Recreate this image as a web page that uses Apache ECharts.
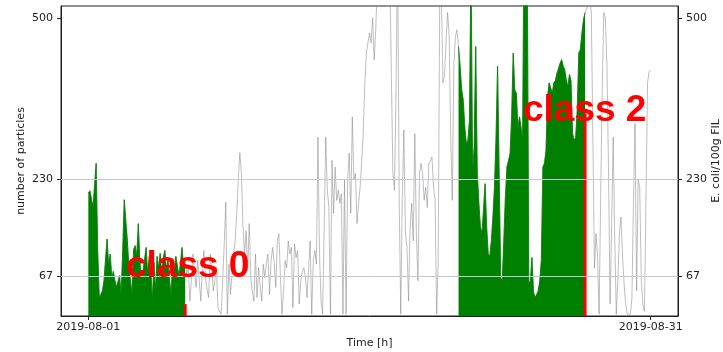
<!DOCTYPE html>
<html>
<head>
<meta charset="utf-8">
<script src="https://cdn.jsdelivr.net/npm/echarts@6/dist/echarts.min.js"></script>
<style>
  html, body { margin: 0; padding: 0; background: #fff; }
  #chart { width: 723px; height: 352px; }
</style>
</head>
<body>
<div id="chart"></div>
<script>
// Particle counts, one reading every 2 hours from 2019-08-01 00:00
const stepHours = 2;
const particles = [
  206,210,207,182,220,256,110,30,32,42,
  59,95,129,85,104,64,75,60,48,58,
  68,35,110,195,160,126,81,59,36,112,
  118,100,155,90,65,75,95,115,70,100,
  80,25,90,42,100,80,105,70,98,110,
  75,95,60,35,96,70,100,85,65,90,
  115,80,95,70,81,25,60,104,75,48,
  93,60,25,80,110,64,45,31,104,80,
  42,60,81,14,8,3,59,120,191,3,
  87,36,70,104,126,170,230,274,239,150,
  104,143,76,155,64,40,25,104,31,81,
  50,25,87,64,90,104,36,93,115,90,
  48,126,138,64,3,42,93,81,126,104,
  115,14,121,98,110,20,59,76,81,64,
  31,80,126,3,93,110,87,300,104,25,
  3,150,300,211,182,3,261,172,250,194,
  211,189,205,3,228,3,228,273,172,334,
  228,239,155,189,216,260,306,391,441,458,
  475,458,500,430,480,560,620,660,700,680,
  650,640,620,580,400,240,211,380,620,200,
  3,200,312,138,115,25,149,189,126,306,
  138,59,239,256,239,194,216,182,256,260,
  267,216,194,3,93,560,540,391,402,460,
  509,470,300,194,419,469,480,452,419,380,
  362,317,289,295,329,600,239,284,452,240,
  190,150,138,180,222,150,104,100,126,166,
  216,300,419,239,64,59,59,200,250,261,
  273,334,441,379,374,317,334,317,295,650,
  650,600,54,59,98,40,31,36,42,59,
  93,250,256,278,368,391,391,374,391,395,
  407,415,424,430,419,413,395,385,405,395,
  306,295,300,346,441,447,475,497,509,514,
  525,530,510,300,80,138,100,3,200,380,
  509,500,420,250,20,150,300,130,3,60,
  140,166,100,54,20,3,3,3,30,189,
  323,42,228,216,60,20,8,194,391,410,
  412
];

// Classified windows (hours since start) and the E. coli sample at each window end
const classNames = ['class 0', 'class 2'];
const windowStartHours = [0, 474];
const windowEndHours = [124, 636];
const ecoliValues = [20, 340];

// Axis ticks
const xTickHours = [0, 720];
const xTickLabels = ['2019-08-01', '2019-08-31'];
const yTickValues = [67, 230, 500];
const gridValues = [67, 230];

const allPoints = particles.map((v, i) => [i * stepHours, v]);
const windowPoints = (s, e) => allPoints.filter(p => p[0] >= s && p[0] <= e);

const axisColor = '#222';
const font = 'DejaVu Sans';

const chart = echarts.init(document.getElementById('chart'), null, { renderer: 'canvas' });

const classSeries = classNames.map((name, k) => ({
  name: name,
  type: 'line',
  data: windowPoints(windowStartHours[k], windowEndHours[k]),
  showSymbol: false,
  symbol: 'none',
  lineStyle: { color: '#008000', width: 0.8 },
  areaStyle: { color: '#008000', opacity: 1, origin: 'start' },
  z: 3,
  silent: true
}));

const yAxisCommon = {
  type: 'value',
  min: 0,
  max: 520,
  splitLine: { show: false },
  axisLine: { show: true, onZero: false, lineStyle: { color: axisColor, width: 1 } },
  axisTick: { show: true, length: 4, customValues: yTickValues, lineStyle: { color: axisColor } },
  axisLabel: { customValues: yTickValues, color: '#222', fontFamily: font, fontSize: 11, margin: 8 },
  nameLocation: 'middle',
  nameMoveOverlap: false,
  nameTextStyle: { color: '#222', fontFamily: font, fontSize: 11 }
};

chart.setOption({
  animation: false,
  backgroundColor: '#fff',
  grid: {
    left: 61, right: 45, top: 6, bottom: 36,
    containLabel: false,
    outerBoundsMode: 'none',
    show: true, borderColor: axisColor, borderWidth: 1, backgroundColor: 'transparent'
  },
  xAxis: {
    type: 'value',
    min: -35,
    max: 755,
    name: 'Time [h]',
    nameLocation: 'middle',
    nameGap: 22,
    nameMoveOverlap: false,
    nameTextStyle: { color: '#222', fontFamily: font, fontSize: 11 },
    splitLine: { show: false },
    axisLine: { show: true, onZero: false, lineStyle: { color: axisColor, width: 1 } },
    axisTick: { show: true, length: 4, customValues: xTickHours, lineStyle: { color: axisColor } },
    axisLabel: {
      customValues: xTickHours,
      formatter: v => xTickLabels[xTickHours.indexOf(v)] || '',
      color: '#222', fontFamily: font, fontSize: 11, margin: 6
    }
  },
  yAxis: [
    Object.assign({}, yAxisCommon, { position: 'left', name: 'number of particles', nameGap: 34 }),
    Object.assign({}, yAxisCommon, { position: 'right', name: 'E. coli/100g FIL', nameGap: 33, nameRotate: 90 })
  ],
  series: [
    {
      name: 'grid',
      type: 'line',
      data: [],
      z: 1,
      silent: true,
      markLine: {
        silent: true,
        symbol: 'none',
        label: { show: false },
        lineStyle: { color: '#c6c6e4', width: 1, type: 'solid' },
        data: gridValues.map(v => ({ yAxis: v }))
      }
    },
    {
      name: 'particles',
      type: 'line',
      data: allPoints,
      showSymbol: false,
      symbol: 'none',
      lineStyle: { color: '#888', width: 0.55 },
      z: 2,
      silent: true
    },
    ...classSeries,
    {
      name: 'E. coli',
      type: 'bar',
      yAxisIndex: 1,
      barWidth: 3,
      data: windowEndHours.map((h, k) => [h, ecoliValues[k]]),
      itemStyle: { color: '#ff0000' },
      z: 4,
      silent: true
    }
  ],
  graphic: [
    {
      type: 'text', left: 126, top: 248, z: 10, silent: true,
      style: { text: classNames[0], fill: '#ff0000', font: 'bold 37px "Liberation Sans", Arial, sans-serif' }
    },
    {
      type: 'text', left: 523, top: 92, z: 10, silent: true,
      style: { text: classNames[1], fill: '#ff0000', font: 'bold 37px "Liberation Sans", Arial, sans-serif' }
    }
  ]
});
</script>
</body>
</html>
